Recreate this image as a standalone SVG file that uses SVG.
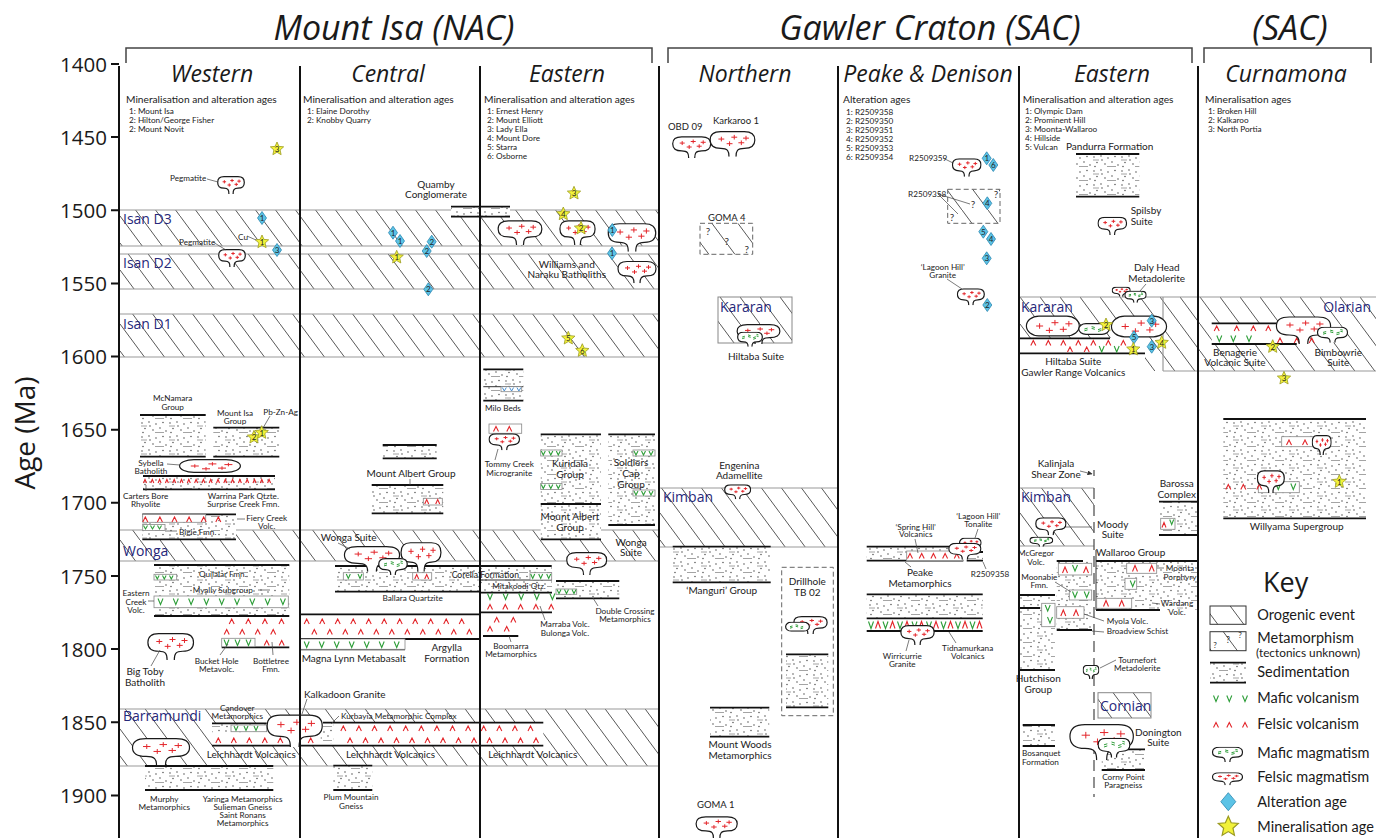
<svg xmlns="http://www.w3.org/2000/svg" width="1376" height="838" viewBox="0 0 1376 838">
<style>
.ttl{font:italic 34px "Open Sans",sans-serif;fill:#1a1a1a;text-anchor:middle}
.col{font:italic 23px "Open Sans",sans-serif;fill:#1a1a1a;text-anchor:middle}
.ax{font:20.5px "Open Sans",sans-serif;fill:#1a1a1a;text-anchor:end}
.hd{font:10.2px Lato,sans-serif;fill:#222}
.s{font:8.2px Lato,sans-serif;fill:#222}
.s9{font:9.5px Lato,sans-serif;fill:#222}
.m{font:10px Lato,sans-serif;fill:#222}
.nv{font:14px "Open Sans",sans-serif;fill:#27287a}
.k{font:14.5px Lato,sans-serif;fill:#1a1a1a}
.n{font:8px Lato,sans-serif;fill:#222;text-anchor:middle}
.q{font:10px Lato,sans-serif;fill:#333;text-anchor:middle}
.c{text-anchor:middle}
.e{text-anchor:end}
.cl{stroke:#111;stroke-width:2;fill:none}
.br{stroke:#444;stroke-width:1.5;fill:none}
.bl{stroke:#9a9a9a;stroke-width:1.2;fill:none}
.hb{fill:url(#h)}
.sd{fill:url(#sd)}
.tk{stroke:#111;stroke-width:1.8;fill:none}
.ld{stroke:#444;stroke-width:.7;fill:none}
.fv{stroke:#e3262b;stroke-width:1.1;fill:none}
.mv{stroke:#2f9e3a;stroke-width:1.1;fill:none}
.bx{fill:#fff;stroke:#888;stroke-width:.8}
.ob{stroke:#888;stroke-width:1;fill:url(#h)}
.dsh{fill:url(#hw);stroke:#666;stroke-width:1;stroke-dasharray:5 3}
</style>
<defs>
<pattern id="h" patternUnits="userSpaceOnUse" width="20" height="27"><path d="M-2,-2.7L22,29.7" stroke="#444" stroke-width=".9"/></pattern>
<pattern id="hw" patternUnits="userSpaceOnUse" width="26" height="35"><path d="M-2,-2.7L28,37.7" stroke="#444" stroke-width=".9"/></pattern>
<pattern id="sd" patternUnits="userSpaceOnUse" width="28" height="14"><rect width="28" height="14" fill="#fff"/><g fill="#333"><circle cx="2" cy="3" r=".65"/><circle cx="9" cy="2" r=".65"/><circle cx="16" cy="4" r=".65"/><circle cx="23" cy="2.5" r=".65"/><circle cx="5" cy="8.5" r=".65"/><circle cx="13" cy="10" r=".65"/><circle cx="20" cy="8" r=".65"/><circle cx="26" cy="11" r=".65"/><circle cx="3" cy="12.5" r=".65"/><circle cx="10" cy="6" r=".65"/></g><path d="M15,12.5h9M1,6h6" stroke="#9a9a9a" stroke-width=".9"/></pattern>
<symbol id="fp" viewBox="0 0 40 28" preserveAspectRatio="none"><path d="M17,28C17,22 16,19 10,19C4,19 1,16 1,10C1,4 4,1 10,1H30C36,1 39,4 39,10C39,16 36,19 30,19C24,19 23,22 23,28" fill="#fff" stroke="#1a1a1a" stroke-width="1.2" vector-effect="non-scaling-stroke"/><path d="M8,9h5M10.5,6.5v5M15,14h5M17.5,11.5v5M19,7h5M21.5,4.5v5M25,13h5M27.5,10.5v5M29,8h5M31.5,5.5v5" stroke="#e3262b" stroke-width="1" vector-effect="non-scaling-stroke"/></symbol>
<symbol id="fb" viewBox="0 0 40 20" preserveAspectRatio="none"><rect x="1" y="1" width="38" height="18" rx="9" fill="#fff" stroke="#1a1a1a" stroke-width="1.2" vector-effect="non-scaling-stroke"/><path d="M8,10h5M10.5,7.5v5M15,14h5M17.5,11.5v5M19,7h5M21.5,4.5v5M25,13h5M27.5,10.5v5M29,8h5M31.5,5.5v5" stroke="#e3262b" stroke-width="1" vector-effect="non-scaling-stroke"/></symbol>
<symbol id="mp" viewBox="0 0 40 28" preserveAspectRatio="none"><path d="M17,28C17,22 16,19 10,19C4,19 1,16 1,10C1,4 4,1 10,1H30C36,1 39,4 39,10C39,16 36,19 30,19C24,19 23,22 23,28" fill="#fff" stroke="#1a1a1a" stroke-width="1.2" vector-effect="non-scaling-stroke"/><path d="M8,10l4,-1.5M8,13l4,-1.5M17,6l4,1.5M17,9l4,1.5M25,11l4,-1.5M25,14l4,-1.5M30,5l3,1M30,8l3,1" stroke="#2f9e3a" stroke-width="1" vector-effect="non-scaling-stroke"/></symbol>
<symbol id="mb" viewBox="0 0 40 20" preserveAspectRatio="none"><rect x="1" y="1" width="38" height="18" rx="9" fill="#fff" stroke="#1a1a1a" stroke-width="1.2" vector-effect="non-scaling-stroke"/><path d="M8,10l4,-1.5M8,13l4,-1.5M17,6l4,1.5M17,9l4,1.5M25,11l4,-1.5M25,14l4,-1.5" stroke="#2f9e3a" stroke-width="1" vector-effect="non-scaling-stroke"/></symbol>
<polygon id="dm" points="0,-6.5 4.5,0 0,6.5 -4.5,0" fill="#5cc3e6" stroke="#2b86b0" stroke-width=".8"/>
<polygon id="sr" points="0,-7 1.92,-2.64 6.66,-2.16 3.1,1.01 4.11,5.66 0,3.27 -4.11,5.66 -3.1,1.01 -6.66,-2.16 -1.92,-2.64" fill="#f2f23a" stroke="#9a9a20" stroke-width=".8"/>
<marker id="ar" markerUnits="userSpaceOnUse" markerWidth="5" markerHeight="5" refX="4.5" refY="2.5" orient="auto"><path d="M0,0L5,2.5L0,5z" fill="#333"/></marker>
</defs>
<rect width="1376" height="838" fill="#fff"/>

<g id="frame">
<text class="ttl" x="394" y="40">Mount Isa (NAC)</text>
<text class="ttl" x="930" y="40">Gawler Craton (SAC)</text>
<text class="ttl" x="1290" y="40">(SAC)</text>
<path class="br" d="M126,63V48H652V63M668,63V48H1192V63M1204,63V48H1371V63"/>
<text class="col" x="212" y="82">Western</text>
<text class="col" x="388" y="82">Central</text>
<text class="col" x="567" y="82">Eastern</text>
<text class="col" x="745" y="82">Northern</text>
<text class="col" x="928" y="82">Peake &amp; Denison</text>
<text class="col" x="1112" y="82">Eastern</text>
<text class="col" x="1286" y="82">Curnamona</text>
<path class="cl" d="M111,64H119M111,137.1H119M111,210.3H119M111,283.4H119M111,356.6H119M111,429.7H119M111,502.8H119M111,576H119M111,649.1H119M111,722.3H119M111,795.4H119"/>
<text class="ax" x="107" y="71.5">1400</text>
<text class="ax" x="107" y="144.6">1450</text>
<text class="ax" x="107" y="217.8">1500</text>
<text class="ax" x="107" y="290.9">1550</text>
<text class="ax" x="107" y="364.1">1600</text>
<text class="ax" x="107" y="437.2">1650</text>
<text class="ax" x="107" y="510.3">1700</text>
<text class="ax" x="107" y="583.5">1750</text>
<text class="ax" x="107" y="656.6">1800</text>
<text class="ax" x="107" y="729.8">1850</text>
<text class="ax" x="107" y="802.9">1900</text>
<text transform="translate(35,433) rotate(-90)" style="font:28px 'Open Sans',sans-serif;fill:#1a1a1a;text-anchor:middle">Age (Ma)</text>
</g>

<g id="orogenic-events">
<rect class="hb" x="119" y="210" width="540" height="36"/>
<rect class="hb" x="119" y="254" width="540" height="35"/>
<rect class="hb" x="119" y="314" width="540" height="43"/>
<rect class="hb" x="119" y="530" width="540" height="31"/>
<rect class="hb" x="119" y="709" width="540" height="57"/>
<path class="bl" d="M119,210H659M119,246H659M119,254H659M119,289H659M119,314H659M119,357H659M119,530H659M119,561H659M119,709H659M119,766H659"/>
<rect class="ob" x="718" y="297" width="74" height="46"/>
<rect class="hb" x="659" y="488" width="179" height="59"/>
<path class="bl" d="M659,488H838M659,547H838"/>
<rect class="hb" x="1019" y="297" width="357" height="41"/>
<rect class="hb" x="1145" y="338" width="231" height="33"/>
<path class="bl" d="M1019,297H1376M1163,297V371M1163,371H1376"/>
<rect class="hb" x="1019" y="488" width="75" height="58"/>
<path class="bl" d="M1019,488H1094M1019,546H1094"/>
<rect class="ob" x="1098" y="692.7" width="53" height="25.3"/>
<text class="nv" x="123" y="224">Isan D3</text>
<text class="nv" x="123" y="267.5">Isan D2</text>
<text class="nv" x="123" y="329">Isan D1</text>
<text class="nv" x="123" y="556">Wonga</text>
<text class="nv" x="123" y="721">Barramundi</text>
<text class="nv" x="720" y="312">Kararan</text>
<text class="nv" x="663" y="502">Kimban</text>
<text class="nv" x="1021" y="312">Kararan</text>
<text class="nv e" x="1371" y="312">Olarian</text>
<text class="nv" x="1021" y="502">Kimban</text>
<text class="nv" x="1100" y="711">Cornian</text>
</g>

<g id="white-areas" fill="#fff">
<rect x="212" y="723" width="88" height="23"/>
<rect x="300" y="722.7" width="243.3" height="23"/>
<rect x="1019" y="338.3" width="126" height="15"/>
<rect x="1211.7" y="323.3" width="85" height="20.7"/>
<rect x="480" y="592.7" width="72" height="19.6"/>
</g>

<g id="sediments">
<rect class="sd" x="140" y="415" width="65.7" height="41.7"/>
<rect class="sd" x="213.3" y="427.7" width="66" height="29"/>
<rect class="sd" x="143" y="476" width="132" height="13.3"/>
<rect class="sd" x="142.3" y="514.3" width="93.7" height="25"/>
<rect class="sd" x="154" y="565" width="135.3" height="51"/>
<rect class="sd" x="145" y="766" width="128.3" height="24"/>
<rect class="sd" x="212" y="723.3" width="54.7" height="9"/>
<rect class="sd" x="451" y="206.7" width="59" height="10"/>
<rect class="sd" x="382.7" y="445" width="54" height="13.3"/>
<rect class="sd" x="371.7" y="485" width="71.6" height="28.3"/>
<rect class="sd" x="335" y="566" width="145" height="25.7"/>
<rect class="sd" x="333.3" y="765.7" width="39" height="24.3"/>
<rect class="sd" x="320.7" y="724" width="12.6" height="20"/>
<rect class="sd" x="483.3" y="369.3" width="40" height="31.4"/>
<rect class="sd" x="540.7" y="434.3" width="60.3" height="105"/>
<rect class="sd" x="608.3" y="434.3" width="46.7" height="90.7"/>
<rect class="sd" x="480" y="566" width="72" height="26.7"/>
<rect class="sd" x="556" y="581" width="63.3" height="17.3"/>
<rect class="sd" x="672.7" y="546.7" width="98" height="35.6"/>
<rect class="sd" x="786" y="654.3" width="42.3" height="53"/>
<rect class="sd" x="710" y="707.7" width="59.3" height="29"/>
<rect class="sd" x="866.7" y="546.7" width="96.6" height="14"/>
<rect class="sd" x="966.7" y="552" width="16.3" height="8.7"/>
<rect class="sd" x="866.7" y="594.3" width="116" height="24"/>
<rect fill="#fff" x="866.7" y="618.3" width="116" height="12.7"/>
<rect class="sd" x="1076" y="154" width="63.3" height="42.7"/>
<rect class="sd" x="1159" y="501.7" width="39" height="33.3"/>
<rect class="sd" x="1096" y="561" width="102" height="49"/>
<rect class="sd" x="1056.7" y="561" width="35.3" height="69"/>
<rect class="sd" x="1020" y="595" width="35" height="75"/>
<rect class="sd" x="1022.7" y="725" width="32.3" height="21"/>
<rect class="sd" x="1101.7" y="749.3" width="43.3" height="20.7"/>
<rect class="sd" x="1223.3" y="419" width="142.7" height="99.3"/>
<path class="tk" d="M140,415h65.7M140,456.7h65.7M213.3,427.7h66M213.3,456.7h66M143,476h132M143,489.3h132M142.3,514.3h93.7M142.3,539.3h93.7M154,565h135.3M154,616h135.3M221.7,647.3h67.6M212,723.3h54.7M212,745.7h88M145,766h128.3M145,790h128.3"/>
<path class="tk" d="M451,206.7h59M451,216.7h59M382.7,445h54M382.7,458.3h54M371.7,485h71.6M371.7,513.3h71.6M335,566h145M335,591.7h145M300,614.3h180M300,639h180M300,649.3h105M323,722.7h220.3M300,745.7h243.3M333.3,765.7h39M333.3,790h39"/>
<path class="tk" d="M483.3,369.3h40M483.3,400.7h40M540.7,434.3h60.3M540.7,504h60.3M540.7,539.3h60.3M608.3,434.3h46.7M608.3,525h46.7M480,566h71.7M480,592.7h72M480,612.3h72M483,636h35.3M556,581h63.3M556,598.3h63.3"/>
<path class="tk" d="M672.7,546.7h98M672.7,582.3h98M786,654.3h42.3M786,707.3h42.3M710,707.7h59.3M710,736.7h59.3M866.7,546.7h96.6M866.7,560.7h96.6M966.7,552h16.3M966.7,560.7h16.3M866.7,594.3h116M866.7,618.3h116M866.7,631h116"/>
<path class="tk" d="M1076,154h63.3M1076,196.7h63.3M1019,338.3h91M1019,353.3h126M1159,501.7h39M1159,535h39M1096,561h102M1096,610h64M1056.7,561h26.3M1056.7,630h35.3M1020,595h35M1020,670h35M1020,608h20M1022.7,725h32.3M1022.7,746h32.3M1101.7,749.3h43.3M1101.7,770h43.3M1211.7,323.3h65M1211.7,344h85M1223.3,419h142.7M1223.3,518.3h142.7"/>
<path d="M483.3,386.7h40M480,580h72M1096,550V610" stroke="#333" stroke-width="1" fill="none"/>
</g>

<g id="volcanic-boxes">
<rect class="bx" x="142.7" y="514.3" width="63" height="8"/>
<rect class="bx" x="142.7" y="524.5" width="22.3" height="6"/>
<rect class="bx" x="154" y="574.3" width="22.7" height="5.7"/>
<rect class="bx" x="154" y="596" width="134.3" height="11.7"/>
<rect class="bx" x="221.7" y="638.3" width="33.3" height="8.4"/>
<rect class="bx" x="231" y="725" width="35.7" height="6.7"/>
<rect class="bx" x="300.5" y="639" width="104.5" height="10.3"/>
<rect class="bx" x="423.3" y="498.3" width="19" height="6.7"/>
<rect class="bx" x="343.3" y="572.7" width="20" height="7.3"/>
<rect class="bx" x="412.7" y="572.7" width="19" height="7.3"/>
<rect class="bx" x="530" y="572.7" width="21.7" height="7.3"/>
<rect class="bx" x="489" y="424" width="32.7" height="9.3"/>
<rect class="bx" x="501" y="386.7" width="20.7" height="5"/>
<rect class="bx" x="540.7" y="450" width="21.3" height="6"/>
<rect class="bx" x="540.7" y="483.5" width="21.3" height="6"/>
<rect class="bx" x="633" y="450" width="22" height="6"/>
<rect class="bx" x="633" y="490" width="22" height="6"/>
<rect class="bx" x="556" y="589" width="20.7" height="5.3"/>
<rect class="bx" x="906.7" y="551" width="56.3" height="9.7"/>
<rect class="bx" x="1160.7" y="518.3" width="14.3" height="11"/>
<rect class="bx" x="1058.3" y="563.3" width="33.4" height="11.7"/>
<rect class="bx" x="1126.7" y="563.3" width="30" height="10"/>
<rect class="bx" x="1125" y="578.3" width="11.7" height="11"/>
<rect class="bx" x="1069.3" y="590" width="22.4" height="10"/>
<rect class="bx" x="1096.7" y="598.3" width="35" height="10"/>
<rect class="bx" x="1056.7" y="606.7" width="27.3" height="11.6"/>
<rect class="bx" x="1041.7" y="603.3" width="13.3" height="23.4"/>
<rect class="bx" x="1281.7" y="436.7" width="41.6" height="10"/>
<rect class="bx" x="1258.3" y="481.7" width="41" height="11"/>
</g>

<g id="felsic-volcanics">
<path class="fv" d="M143.5,483l1.5,-3.5 1.5,3.5m4.3,0l1.5,-3.5 1.5,3.5m4.3,0l1.5,-3.5 1.5,3.5m4.3,0l1.5,-3.5 1.5,3.5m4.3,0l1.5,-3.5 1.5,3.5m4.3,0l1.5,-3.5 1.5,3.5m4.3,0l1.5,-3.5 1.5,3.5m4.3,0l1.5,-3.5 1.5,3.5m4.3,0l1.5,-3.5 1.5,3.5m4.3,0l1.5,-3.5 1.5,3.5m4.3,0l1.5,-3.5 1.5,3.5m4.3,0l1.5,-3.5 1.5,3.5m4.3,0l1.5,-3.5 1.5,3.5m4.3,0l1.5,-3.5 1.5,3.5m4.3,0l1.5,-3.5 1.5,3.5m4.3,0l1.5,-3.5 1.5,3.5m4.3,0l1.5,-3.5 1.5,3.5m4.3,0l1.5,-3.5 1.5,3.5"/>
<path class="fv" d="M142.8,522l2.5,-5 2.5,5m9.6,0l2.5,-5 2.5,5m9.6,0l2.5,-5 2.5,5m9.6,0l2.5,-5 2.5,5m9.6,0l2.5,-5 2.5,5m9.6,0l2.5,-5 2.5,5"/>
<path class="fv" d="M229.2,624l2.5,-5 2.5,5m11.6,0l2.5,-5 2.5,5m11.6,0l2.5,-5 2.5,5m11.6,0l2.5,-5 2.5,5M224.2,634.5l2.5,-5 2.5,5m10.5,0l2.5,-5 2.5,5m10.5,0l2.5,-5 2.5,5m10.5,0l2.5,-5 2.5,5M264.2,645.5l2.5,-5 2.5,5m10,0l2.5,-5 2.5,5"/>
<path class="fv" d="M215.8,743l2.5,-5 2.5,5m10.5,0l2.5,-5 2.5,5m10.5,0l2.5,-5 2.5,5m10.5,0l2.5,-5 2.5,5m10.5,0l2.5,-5 2.5,5M308.2,743l2.5,-5 2.5,5"/>
<path class="fv" d="M304.2,624l2.5,-5 2.5,5m10.5,0l2.5,-5 2.5,5m10.5,0l2.5,-5 2.5,5m10.5,0l2.5,-5 2.5,5m10.5,0l2.5,-5 2.5,5m10.5,0l2.5,-5 2.5,5m10.5,0l2.5,-5 2.5,5m10.5,0l2.5,-5 2.5,5m10.5,0l2.5,-5 2.5,5m10.5,0l2.5,-5 2.5,5m10.5,0l2.5,-5 2.5,5M311.8,634.5l2.5,-5 2.5,5m10.5,0l2.5,-5 2.5,5m10.5,0l2.5,-5 2.5,5m10.5,0l2.5,-5 2.5,5m10.5,0l2.5,-5 2.5,5m10.5,0l2.5,-5 2.5,5m10.5,0l2.5,-5 2.5,5m10.5,0l2.5,-5 2.5,5m10.5,0l2.5,-5 2.5,5m10.5,0l2.5,-5 2.5,5m10.5,0l2.5,-5 2.5,5"/>
<path class="fv" d="M340.8,731l2.5,-5 2.5,5m10.6,0l2.5,-5 2.5,5m10.6,0l2.5,-5 2.5,5m10.6,0l2.5,-5 2.5,5m10.6,0l2.5,-5 2.5,5m10.6,0l2.5,-5 2.5,5m10.6,0l2.5,-5 2.5,5m10.6,0l2.5,-5 2.5,5m10.6,0l2.5,-5 2.5,5m10.6,0l2.5,-5 2.5,5m10.6,0l2.5,-5 2.5,5m10.6,0l2.5,-5 2.5,5m10.6,0l2.5,-5 2.5,5M347.5,743l2.5,-5 2.5,5m10.5,0l2.5,-5 2.5,5m10.5,0l2.5,-5 2.5,5m10.5,0l2.5,-5 2.5,5m10.5,0l2.5,-5 2.5,5m10.5,0l2.5,-5 2.5,5m10.5,0l2.5,-5 2.5,5m10.5,0l2.5,-5 2.5,5m10.5,0l2.5,-5 2.5,5m10.5,0l2.5,-5 2.5,5m10.5,0l2.5,-5 2.5,5m10.5,0l2.5,-5 2.5,5m10.5,0l2.5,-5 2.5,5"/>
<path class="fv" d="M493.5,431.5l2.5,-5 2.5,5m8.3,0l2.5,-5 2.5,5M424.7,504l2,-4.5 2,4.5m7,0l2,-4.5 2,4.5M414.7,579l2,-4.5 2,4.5m6,0l2,-4.5 2,4.5"/>
<path class="fv" d="M487.5,609.5l2.5,-5 2.5,5m10.3,0l2.5,-5 2.5,5m10.3,0l2.5,-5 2.5,5m10.3,0l2.5,-5 2.5,5m10.3,0l2.5,-5 2.5,5M494.2,622.5l2.5,-5 2.5,5m11.6,0l2.5,-5 2.5,5M487.5,631.5l2.5,-5 2.5,5m11.7,0l2.5,-5 2.5,5"/>
<path class="fv" d="M907.5,558.5l2.5,-5 2.5,5m6.7,0l2.5,-5 2.5,5m6.7,0l2.5,-5 2.5,5m6.7,0l2.5,-5 2.5,5m6.7,0l2.5,-5 2.5,5M875.5,628.5l2.5,-7 2.5,7m9.5,0l2.5,-7 2.5,7m9.5,0l2.5,-7 2.5,7m9.5,0l2.5,-7 2.5,7m9.5,0l2.5,-7 2.5,7m9.5,0l2.5,-7 2.5,7m9.5,0l2.5,-7 2.5,7m9.5,0l2.5,-7 2.5,7"/>
<path class="fv" d="M1030.8,345.5l2.5,-5 2.5,5m10,0l2.5,-5 2.5,5m10,0l2.5,-5 2.5,5m10,0l2.5,-5 2.5,5m10,0l2.5,-5 2.5,5m10,0l2.5,-5 2.5,5m10,0l2.5,-5 2.5,5M1067.5,352l2.5,-5 2.5,5m11.7,0l2.5,-5 2.5,5"/>
<path class="fv" d="M1214.2,331l2.5,-5 2.5,5m15,0l2.5,-5 2.5,5m11.6,0l2.5,-5 2.5,5m10,0l2.5,-5 2.5,5M1277.5,343l2.5,-5 2.5,5m11.7,0l2.5,-5 2.5,5m10,0l2.5,-5 2.5,5"/>
<path class="fv" d="M1286.5,445l2.5,-5 2.5,5m11,0l2.5,-5 2.5,5M1225.8,489.5l2.5,-5 2.5,5m10,0l2.5,-5 2.5,5m11,0l2.5,-5 2.5,5M1162,527.5l2,-5 2,5"/>
<path class="fv" d="M1062.5,573l2.5,-6 2.5,6M1083.5,573l2.5,-6 2.5,6M1132.5,571.5l2.5,-6 2.5,6m11.7,0l2.5,-6 2.5,6M1103.5,606.5l2.5,-6 2.5,6m10.7,0l2.5,-6 2.5,6M1060.8,616l2.5,-6 2.5,6m7.7,0l2.5,-6 2.5,6"/>
</g>

<g id="mafic-volcanics">
<path class="mv" d="M143.5,525.5l2,3.5 2,-3.5m3,0l2,3.5 2,-3.5m3,0l2,3.5 2,-3.5M155.5,575.5l1.8,3.5 1.8,-3.5m3.4,0l1.8,3.5 1.8,-3.5m3.4,0l1.8,3.5 1.8,-3.5"/>
<path class="mv" d="M158,598.5l2.5,6 2.5,-6m10.3,0l2.5,6 2.5,-6m10.3,0l2.5,6 2.5,-6m10.3,0l2.5,6 2.5,-6m10.3,0l2.5,6 2.5,-6m10.3,0l2.5,6 2.5,-6m10.3,0l2.5,6 2.5,-6m10.3,0l2.5,6 2.5,-6m10.3,0l2.5,6 2.5,-6"/>
<path class="mv" d="M224,639.5l2.5,6 2.5,-6m6,0l2.5,6 2.5,-6m6,0l2.5,6 2.5,-6M234,726l2,4.5 2,-4.5m6,0l2,4.5 2,-4.5m6,0l2,4.5 2,-4.5"/>
<path class="mv" d="M304.2,641.5l2.5,6 2.5,-6m10,0l2.5,6 2.5,-6m10,0l2.5,6 2.5,-6m10,0l2.5,6 2.5,-6m10,0l2.5,6 2.5,-6m10,0l2.5,6 2.5,-6m10,0l2.5,6 2.5,-6"/>
<path class="mv" d="M346.3,574l2,4.5 2,-4.5m7.7,0l2,4.5 2,-4.5M530.7,574l2,4.5 2,-4.5m4,0l2,4.5 2,-4.5m4,0l2,4.5 2,-4.5"/>
<path class="mv" d="M487.5,593.5l2.5,6 2.5,-6m10.6,0l2.5,6 2.5,-6m10.6,0l2.5,6 2.5,-6m10.6,0l2.5,6 2.5,-6m10.6,0l2.5,6 2.5,-6"/>
<path class="mv" d="M557,589.5l2,4 2,-4m3.5,0l2,4 2,-4m3.5,0l2,4 2,-4M541.3,451l2,4 2,-4m3.5,0l2,4 2,-4m3.5,0l2,4 2,-4M541.3,484.5l2,4 2,-4m3.5,0l2,4 2,-4m3.5,0l2,4 2,-4M634,451l2,4 2,-4m3.5,0l2,4 2,-4m3.5,0l2,4 2,-4M634,491l2,4 2,-4m3.5,0l2,4 2,-4m3.5,0l2,4 2,-4"/>
<path class="mv" d="M868.5,621.5l2.5,7 2.5,-7m9.5,0l2.5,7 2.5,-7m9.5,0l2.5,7 2.5,-7m9.5,0l2.5,7 2.5,-7m9.5,0l2.5,7 2.5,-7m9.5,0l2.5,7 2.5,-7m9.5,0l2.5,7 2.5,-7m9.5,0l2.5,7 2.5,-7"/>
<path class="mv" d="M1099.2,346l2.5,6 2.5,-6m10,0l2.5,6 2.5,-6M1216.8,335.5l2.5,6 2.5,-6m9,0l2.5,6 2.5,-6m10.7,0l2.5,6 2.5,-6M1275.8,483.5l2.5,6 2.5,-6m10,0l2.5,6 2.5,-6M1169.7,519.5l2,5 2,-5"/>
<path class="mv" d="M1072.5,565l2.5,6 2.5,-6M1130.2,580.5l2.5,6 2.5,-6M1072.5,591.5l2.5,6 2.5,-6m6.7,0l2.5,6 2.5,-6M1045.2,605l2.5,6 2.5,-6M1047.5,617l2.5,6 2.5,-6"/>
<path d="M502.3,387.5l2,3.5 2,-3.5m3.3,0l2,3.5 2,-3.5m3.3,0l2,3.5 2,-3.5" stroke="#4a8fd0" stroke-width="1" fill="none"/>
</g>

<g id="metamorphism">
<rect class="dsh" x="700" y="223.3" width="52.7" height="31"/>
<text class="q" x="708" y="235">?</text><text class="q" x="726.7" y="245">?</text><text class="q" x="746.7" y="253">?</text>
<rect class="dsh" x="947.7" y="189.3" width="52.3" height="34"/>
<text class="q" x="973" y="208">?</text><text class="q" x="996" y="198">?</text><text class="q" x="952" y="221">?</text>
<rect x="781.7" y="567.3" width="51.6" height="148.4" fill="none" stroke="#666" stroke-width="1" stroke-dasharray="5 3"/>
<path d="M1094,470V476M1094,488V797" stroke="#555" stroke-width="1.3" stroke-dasharray="11 6" fill="none"/>
</g>

<g id="plutons">
<use href="#fp" x="217" y="176" width="28" height="18"/>
<use href="#fp" x="218" y="249" width="28" height="18"/>
<use href="#fb" x="178" y="459" width="64" height="14"/>
<use href="#fp" x="146.7" y="632.7" width="48" height="27.3"/>
<use href="#fp" x="131" y="737.7" width="60" height="27.5"/>
<use href="#fp" x="265.7" y="714" width="58" height="33"/>
<use href="#fp" x="343" y="545.7" width="58" height="26"/>
<use href="#fp" x="400" y="541.7" width="42" height="30"/>
<use href="#mp" x="378" y="558" width="30" height="17"/>
<use href="#fp" x="497" y="220" width="46" height="25"/>
<use href="#fp" x="559" y="220" width="37" height="25"/>
<use href="#fp" x="607" y="222.7" width="50" height="29"/>
<use href="#fp" x="617" y="260.7" width="40" height="22.5"/>
<use href="#fp" x="488.3" y="433.3" width="32" height="17"/>
<use href="#fp" x="565.7" y="551.7" width="42" height="23.3"/>
<use href="#fp" x="671.7" y="136" width="40" height="22"/>
<use href="#fp" x="709" y="130.7" width="47" height="26"/>
<use href="#fp" x="736" y="324" width="45" height="20"/>
<use href="#mp" x="737" y="331.7" width="26" height="15"/>
<use href="#fp" x="724" y="484.3" width="27.3" height="15"/>
<use href="#fp" x="793" y="616" width="35" height="18"/>
<use href="#mb" x="785" y="621.7" width="25" height="10"/>
<use href="#fp" x="695" y="816" width="43.3" height="22"/>
<use href="#fp" x="951.7" y="158.3" width="30" height="18.4"/>
<use href="#fp" x="956.7" y="288.3" width="28.3" height="17"/>
<use href="#fb" x="959" y="537.7" width="22.7" height="10"/>
<use href="#fp" x="948" y="542.7" width="33.7" height="17"/>
<use href="#fp" x="900" y="625" width="35" height="20"/>
<use href="#fp" x="1097.3" y="216.7" width="30" height="18.3"/>
<use href="#fp" x="1111.7" y="286.7" width="19" height="10"/>
<use href="#mp" x="1124.3" y="290.7" width="22.4" height="12"/>
<use href="#fb" x="1025" y="315" width="55.7" height="22"/>
<use href="#mb" x="1078" y="323" width="32" height="12"/>
<use href="#fb" x="1110" y="315" width="58" height="23"/>
<use href="#fp" x="1035" y="517.3" width="31.7" height="18"/>
<use href="#mp" x="1029.3" y="536.7" width="24" height="10"/>
<use href="#mp" x="1082.7" y="665" width="16.6" height="14"/>
<use href="#fp" x="1068.3" y="723.3" width="66.7" height="37"/>
<use href="#mp" x="1097.3" y="737.7" width="33.4" height="20"/>
<use href="#fp" x="1275" y="316" width="57" height="28"/>
<use href="#mp" x="1316.7" y="326.7" width="31.6" height="16"/>
<use href="#fp" x="1311.7" y="435" width="20" height="20"/>
<use href="#fp" x="1256.7" y="470" width="28.3" height="23"/>
</g>

<g id="alteration-ages">
<use href="#dm" x="262" y="218"/><text class="n" x="262" y="221">1</text>
<use href="#dm" x="277" y="250"/><text class="n" x="277" y="253">3</text>
<use href="#dm" x="393" y="232.7"/><text class="n" x="393" y="235.7">1</text>
<use href="#dm" x="400" y="241"/><text class="n" x="400" y="244">1</text>
<use href="#dm" x="431.7" y="241.7"/><text class="n" x="431.7" y="244.7">2</text>
<use href="#dm" x="426.7" y="251"/><text class="n" x="426.7" y="254">2</text>
<use href="#dm" x="428.3" y="289.3"/><text class="n" x="428.3" y="292.3">2</text>
<use href="#dm" x="612.3" y="230"/><text class="n" x="612.3" y="233">1</text>
<use href="#dm" x="612" y="253.3"/><text class="n" x="612" y="256.3">1</text>
<use href="#dm" x="986.7" y="158.3"/><text class="n" x="986.7" y="161.3">1</text>
<use href="#dm" x="993.3" y="165"/><text class="n" x="993.3" y="168">6</text>
<use href="#dm" x="987.3" y="203.3"/><text class="n" x="987.3" y="206.3">4</text>
<use href="#dm" x="983.3" y="231.7"/><text class="n" x="983.3" y="234.7">5</text>
<use href="#dm" x="991" y="239"/><text class="n" x="991" y="242">4</text>
<use href="#dm" x="986.7" y="258.3"/><text class="n" x="986.7" y="261.3">3</text>
<use href="#dm" x="987.3" y="305"/><text class="n" x="987.3" y="308">2</text>
<use href="#dm" x="1151.7" y="320.7"/><text class="n" x="1151.7" y="323.7">3</text>
<use href="#dm" x="1134" y="337.3"/><text class="n" x="1134" y="340.3">5</text>
<use href="#dm" x="1151.7" y="346.7"/><text class="n" x="1151.7" y="349.7">3</text>
</g>

<g id="mineralisation-ages">
<use href="#sr" x="277" y="149"/><text class="n" x="277" y="152">3</text>
<use href="#sr" x="262" y="242"/><text class="n" x="262" y="245">1</text>
<use href="#sr" x="254" y="437.3"/><text class="n" x="254" y="440.3">2</text>
<use href="#sr" x="261.7" y="432.7"/><text class="n" x="261.7" y="435.7">1</text>
<use href="#sr" x="396.7" y="257.3"/><text class="n" x="396.7" y="260.3">1</text>
<use href="#sr" x="574" y="193.3"/><text class="n" x="574" y="196.3">3</text>
<use href="#sr" x="563.3" y="214"/><text class="n" x="563.3" y="217">4</text>
<use href="#sr" x="581" y="228.3"/><text class="n" x="581" y="231.3">2</text>
<use href="#sr" x="568.3" y="338.3"/><text class="n" x="568.3" y="341.3">5</text>
<use href="#sr" x="582.3" y="350.7"/><text class="n" x="582.3" y="353.7">6</text>
<use href="#sr" x="1106" y="325"/><text class="n" x="1106" y="328">2</text>
<use href="#sr" x="1161.7" y="342.7"/><text class="n" x="1161.7" y="345.7">4</text>
<use href="#sr" x="1133.3" y="349.3"/><text class="n" x="1133.3" y="352.3">1</text>
<use href="#sr" x="1272.7" y="346.7"/><text class="n" x="1272.7" y="349.7">2</text>
<use href="#sr" x="1284" y="378.3"/><text class="n" x="1284" y="381.3">3</text>
<use href="#sr" x="1339.3" y="481.7"/><text class="n" x="1339.3" y="484.7">1</text>
</g>

<g id="connectors" class="ld">
<path d="M207,179L218,182M247,236L256,240M213,242L226,250M943,158L953,163M938,194L970,204M938,194L958,214M947,279L962,289M270,416L263,428M167,464L180,465M146,491L146,485M237,519L245,519M165,531L177,531M148,601L154,601M258,590L270,590M220,655L228,644M273,655L272,642M151,666L160,650M307,699L302,714M339,716L331,724M410,479L410,485M338,543L350,549M495,460L498,449M540,606L545,620M509,636L511,642M593,598L598,606M915,539L918,553M978,529L975,538M905,562L911,567M983,562L986,569M906,651L909,640M956,643L949,632M1092,527L1066,527M1157,568L1164,568M1055,582L1071,592M1152,603L1160,604M1084,614L1104,621M1092,631L1104,632M1100,668L1116,660M1146,284L1140,291"/>
<path d="M1080,471L1092,474" marker-end="url(#ar)"/>
</g>

<g id="labels-western">
<text class="hd" x="126" y="102.5">Mineralisation and alteration ages</text>
<text class="s" x="129" y="114">1: Mount Isa</text>
<text class="s" x="129" y="123">2: Hilton/George Fisher</text>
<text class="s" x="129" y="132">2: Mount Novit</text>
<text class="s" x="170" y="181">Pegmatite</text>
<text class="s" x="238" y="239.5">Cu</text>
<text class="s" x="179" y="244.5">Pegmatite</text>
<text class="s c" x="172.7" y="401">McNamara</text><text class="s c" x="172.7" y="409.5">Group</text>
<text class="s c" x="235" y="416">Mount Isa</text><text class="s c" x="235" y="424">Group</text>
<text class="s" x="263.3" y="414.5">Pb-Zn-Ag</text>
<text class="s c" x="151" y="465.5">Sybella</text><text class="s c" x="151" y="473.5">Batholith</text>
<text class="s c" x="145.7" y="499">Carters Bore</text><text class="s c" x="145.7" y="507">Rhyolite</text>
<text class="s c" x="243.3" y="499">Warrina Park Qtzte.</text><text class="s c" x="243.3" y="507">Surprise Creek Fmn.</text>
<text class="s c" x="266.7" y="521">Fiery Creek</text><text class="s c" x="266.7" y="529">Volc.</text>
<text class="s" x="179" y="534.5">Bigie Fmn.</text>
<text class="s c" x="222.7" y="577">Quilalar Fmn.</text>
<text class="s c" x="222.7" y="592.5">Myally Subgroup</text>
<text class="s c" x="136" y="596">Eastern</text><text class="s c" x="136" y="604.5">Creek</text><text class="s c" x="136" y="613">Volc.</text>
<text class="s c" x="216.7" y="663.5">Bucket Hole</text><text class="s c" x="216.7" y="672">Metavolc.</text>
<text class="s c" x="271" y="663.5">Bottletree</text><text class="s c" x="271" y="672">Fmn.</text>
<text class="m c" x="145" y="675">Big Toby</text><text class="m c" x="145" y="686">Batholith</text>
<text class="s c" x="237.3" y="711">Candover</text><text class="s c" x="237.3" y="719">Metamorphics</text>
<text class="m" x="206.7" y="757.5">Leichhardt Volcanics</text>
<text class="s c" x="164.3" y="802">Murphy</text><text class="s c" x="164.3" y="810">Metamorphics</text>
<text class="s c" x="242.7" y="802">Yaringa Metamorphics</text><text class="s c" x="242.7" y="810">Sulieman Gneiss</text><text class="s c" x="242.7" y="818">Saint Ronans</text><text class="s c" x="242.7" y="826">Metamorphics</text>
</g>

<g id="labels-central">
<text class="hd" x="303" y="102.5">Mineralisation and alteration ages</text>
<text class="s" x="307" y="114">1: Elaine Dorothy</text>
<text class="s" x="307" y="123">2: Knobby Quarry</text>
<text class="m c" x="436" y="187.5">Quamby</text><text class="m c" x="436" y="198">Conglomerate</text>
<text class="m c" x="411" y="476.5">Mount Albert Group</text>
<text class="m" x="320.7" y="541">Wonga Suite</text>
<text class="s" x="451.7" y="577.5" style="font-size:8.6px">Corella Formation</text>
<text class="s c" x="412.7" y="601">Ballara Quartzite</text>
<text class="m" x="301.7" y="662">Magna Lynn Metabasalt</text>
<text class="m c" x="446.7" y="650.5">Argylla</text><text class="m c" x="446.7" y="662">Formation</text>
<text class="m" x="304" y="697.5">Kalkadoon Granite</text>
<text class="s" x="341" y="718.5">Kurbayia Metamorphic Complex</text>
<text class="m" x="346" y="757.5">Leichhardt Volcanics</text>
<text class="s c" x="351" y="800">Plum Mountain</text><text class="s c" x="351" y="808.5">Gneiss</text>
</g>

<g id="labels-eastern-mi">
<text class="hd" x="484" y="102.5">Mineralisation and alteration ages</text>
<text class="s" x="487" y="114">1: Ernest Henry</text>
<text class="s" x="487" y="123">2: Mount Elliott</text>
<text class="s" x="487" y="132">3: Lady Ella</text>
<text class="s" x="487" y="141">4: Mount Dore</text>
<text class="s" x="487" y="150">5: Starra</text>
<text class="s" x="487" y="159">6: Osborne</text>
<text class="m c" x="566.7" y="267.5">Williams and</text><text class="m c" x="566.7" y="278">Naraku Batholiths</text>
<text class="s" x="485" y="411">Milo Beds</text>
<text class="s c" x="509.3" y="467">Tommy Creek</text><text class="s c" x="509.3" y="475.5">Microgranite</text>
<text class="m c" x="570" y="467">Kuridala</text><text class="m c" x="570" y="478">Group</text>
<text class="m c" x="570" y="520">Mount Albert</text><text class="m c" x="570" y="531">Group</text>
<text class="m c" x="631" y="466">Soldiers</text><text class="m c" x="631" y="477">Cap</text><text class="m c" x="631" y="488">Group</text>
<text class="m c" x="631" y="545.5">Wonga</text><text class="m c" x="631" y="556">Suite</text>
<text class="s" x="492.3" y="589">Mitakoodi Qtz.</text>
<text class="s c" x="565" y="627">Marraba Volc.</text><text class="s c" x="565" y="636">Bulonga Volc.</text>
<text class="s c" x="511" y="649">Boomarra</text><text class="s c" x="511" y="657">Metamorphics</text>
<text class="s c" x="625" y="613.5">Double Crossing</text><text class="s c" x="625" y="622">Metamorphics</text>
<text class="m" x="488.3" y="758">Leichhardt Volcanics</text>
</g>

<g id="labels-northern">
<text class="s9" x="668" y="130">OBD 09</text>
<text class="s9" x="713" y="124">Karkaroo 1</text>
<text class="s9 c" x="726.7" y="221">GOMA 4</text>
<text class="m c" x="756" y="360">Hiltaba Suite</text>
<text class="m c" x="739.3" y="468.5">Engenina</text><text class="m c" x="739.3" y="479">Adamellite</text>
<text class="m c" x="721.7" y="594">‘Manguri’ Group</text>
<text class="m c" x="807.3" y="585">Drillhole</text><text class="m c" x="807.3" y="596">TB 02</text>
<text class="m c" x="740" y="748">Mount Woods</text><text class="m c" x="740" y="758.5">Metamorphics</text>
<text class="s9 c" x="715.7" y="807.5">GOMA 1</text>
</g>

<g id="labels-peake">
<text class="hd" x="843" y="102.5">Alteration ages</text>
<text class="s" x="846" y="115">1: R2509358</text>
<text class="s" x="846" y="124">2: R2509350</text>
<text class="s" x="846" y="133">3: R2509351</text>
<text class="s" x="846" y="142">4: R2509352</text>
<text class="s" x="846" y="151">5: R2509353</text>
<text class="s" x="846" y="160">6: R2509354</text>
<text class="s" x="909" y="160.5">R2509359</text>
<text class="s" x="908" y="196.5">R2509358</text>
<text class="s c" x="942.7" y="269.5">‘Lagoon Hill’</text><text class="s c" x="942.7" y="277.5">Granite</text>
<text class="s c" x="915.7" y="529.5">‘Spring Hill’</text><text class="s c" x="915.7" y="537">Volcanics</text>
<text class="s c" x="978.3" y="518.5">‘Lagoon Hill’</text><text class="s c" x="978.3" y="527">Tonalite</text>
<text class="m c" x="920" y="576">Peake</text><text class="m c" x="920" y="586.5">Metamorphics</text>
<text class="s c" x="990" y="577">R2509358</text>
<text class="s c" x="902.3" y="659">Wirricurrie</text><text class="s c" x="902.3" y="667">Granite</text>
<text class="s c" x="967.7" y="650.5">Tidnamurkana</text><text class="s c" x="967.7" y="659">Volcanics</text>
</g>

<g id="labels-eastern-gawler">
<text class="hd" x="1022.7" y="102.5">Mineralisation and alteration ages</text>
<text class="s" x="1025" y="113.7">1: Olympic Dam</text>
<text class="s" x="1025" y="122.7">2: Prominent Hill</text>
<text class="s" x="1025" y="131.7">3: Moonta-Wallaroo</text>
<text class="s" x="1025" y="140.7">4: Hillside</text>
<text class="s" x="1025" y="149.7">5: Vulcan</text>
<text class="m" x="1066" y="150">Pandurra Formation</text>
<text class="m" x="1130.7" y="213.5">Spilsby</text><text class="m" x="1130.7" y="224.5">Suite</text>
<text class="m c" x="1156.7" y="271">Daly Head</text><text class="m c" x="1156.7" y="282">Metadolerite</text>
<text class="m c" x="1073.3" y="365">Hiltaba Suite</text><text class="m c" x="1073.3" y="376">Gawler Range Volcanics</text>
<text class="m c" x="1056" y="466.5">Kalinjala</text><text class="m c" x="1056" y="477.5">Shear Zone</text>
<text class="m c" x="1176.7" y="487">Barossa</text><text class="m c" x="1176.7" y="497.5">Complex</text>
<text class="m c" x="1112.7" y="527.5">Moody</text><text class="m c" x="1112.7" y="538">Suite</text>
<text class="s c" x="1036" y="555.5">McGregor</text><text class="s c" x="1036" y="564.5">Volc.</text>
<text class="m" x="1096" y="556">Wallaroo Group</text>
<text class="s c" x="1180" y="570.5">Moonta</text><text class="s c" x="1180" y="579.7">Porphyry</text>
<text class="s c" x="1039.3" y="579.5">Moonabie</text><text class="s c" x="1039.3" y="588">Fmn.</text>
<text class="s c" x="1177" y="606.3">Wardang</text><text class="s c" x="1177" y="614.7">Volc.</text>
<text class="s" x="1106.7" y="624">Myola Volc.</text>
<text class="s" x="1106.7" y="634">Broadview Schist</text>
<text class="s c" x="1137.3" y="663">Tournefort</text><text class="s c" x="1137.3" y="671.3">Metadolerite</text>
<text class="m c" x="1038.3" y="682">Hutchison</text><text class="m c" x="1038.3" y="693">Group</text>
<text class="m c" x="1158.3" y="735.5">Donington</text><text class="m c" x="1158.3" y="745.5">Suite</text>
<text class="s" x="1022" y="756.3">Bosanquet</text><text class="s" x="1022" y="764.7">Formation</text>
<text class="s c" x="1123.3" y="779.7">Corny Point</text><text class="s c" x="1123.3" y="788">Paragneiss</text>
</g>

<g id="labels-curnamona">
<text class="hd" x="1205" y="102.5">Mineralisation ages</text>
<text class="s" x="1208" y="114">1: Broken Hill</text>
<text class="s" x="1208" y="123">2: Kalkaroo</text>
<text class="s" x="1208" y="132">3: North Portia</text>
<text class="m c" x="1235" y="356">Benagerie</text><text class="m c" x="1235" y="366">Volcanic Suite</text>
<text class="m c" x="1338.3" y="356">Bimbowrie</text><text class="m c" x="1338.3" y="366">Suite</text>
<text class="m c" x="1296.7" y="530">Willyama Supergroup</text>
</g>

<g id="key">
<text x="1263" y="592" style="font:27px 'Open Sans',sans-serif;fill:#1a1a1a">Key</text>
<rect x="1210" y="606" width="36" height="18.3" fill="url(#hw)" stroke="#333" stroke-width="1"/>
<text class="k" x="1257.3" y="620">Orogenic event</text>
<rect x="1210" y="631.7" width="36" height="19" fill="url(#hw)" stroke="#333" stroke-width="1"/>
<text class="q" x="1215" y="648" style="font-size:8px">?</text><text class="q" x="1228" y="643" style="font-size:9px">?</text><text class="q" x="1240" y="638" style="font-size:8px">?</text>
<text class="k" x="1257.3" y="642.5">Metamorphism</text>
<text x="1256" y="657" style="font:11.8px Lato,sans-serif;fill:#1a1a1a">(tectonics unknown)</text>
<rect class="sd" x="1210" y="662.7" width="36" height="20"/>
<path class="tk" d="M1210,662.7h36M1210,682.7h36"/>
<text class="k" x="1257.3" y="677">Sedimentation</text>
<path class="mv" d="M1213.5,695.5l2.5,6 2.5,-6m8.3,0l2.5,6 2.5,-6m10.7,0l2.5,6 2.5,-6"/>
<text class="k" x="1257.3" y="703">Mafic volcanism</text>
<path class="fv" d="M1213.5,727.5l2.5,-5 2.5,5m8.3,0l2.5,-5 2.5,5m10.7,0l2.5,-5 2.5,5"/>
<text class="k" x="1257.3" y="729">Felsic volcanism</text>
<use href="#mp" x="1211.7" y="746.7" width="31.6" height="15.3"/>
<text class="k" x="1257.3" y="758">Mafic magmatism</text>
<use href="#fp" x="1211.7" y="772.3" width="31.6" height="13"/>
<text class="k" x="1257.3" y="782">Felsic magmatism</text>
<polygon points="1228.3,792.7 1235.8,801.7 1228.3,810.7 1220.8,801.7" fill="#5cc3e6" stroke="#2b86b0" stroke-width=".8"/>
<text class="k" x="1257.3" y="807">Alteration age</text>
<use href="#sr" transform="translate(1228.3,826.7) scale(1.5)"/>
<text class="k" x="1257.3" y="831.5">Mineralisation age</text>
</g>

<g id="columns">
<path class="cl" d="M119,66V838M300,66V838M480,66V838M659,66V838M838,66V838M1019,66V838M1198,66V838"/>
</g>
</svg>
